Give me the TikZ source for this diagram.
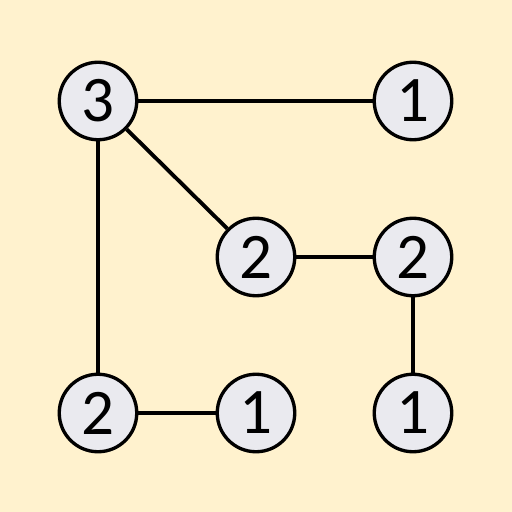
\documentclass[tikz,border=0pt]{standalone}
\usepackage{fontspec}
\setmainfont{Carlito}
\definecolor{paper}{RGB}{255,242,206}
\definecolor{disc}{RGB}{234,234,239}
\tikzset{
  vert/.style={circle, draw=black, line width=1.9pt, fill=disc, minimum size=1.55cm, inner sep=0pt, font=\fontsize{37}{40}\selectfont},
  edge/.style={line width=2.2pt}
}
\begin{document}
\begin{tikzpicture}
	% Background
	\fill[paper] (0,0) rectangle (10.24,10.24);
	\useasboundingbox (0,0) rectangle (10.24,10.24);
	% Vertices
	\node[vert] (a) at (1.96,8.22) {3};
	\node[vert] (b) at (8.26,8.22) {1};
	\node[vert] (c) at (5.12,5.10) {2};
	\node[vert] (d) at (8.26,5.10) {2};
	\node[vert] (e) at (1.96,1.98) {2};
	\node[vert] (f) at (5.12,1.98) {1};
	\node[vert] (g) at (8.26,1.98) {1};
	% Edges
	\draw[edge] (a) -- (b);
	\draw[edge] (a) -- (c);
	\draw[edge] (a) -- (e);
	\draw[edge] (c) -- (d);
	\draw[edge] (d) -- (g);
	\draw[edge] (e) -- (f);
\end{tikzpicture}
\end{document}
